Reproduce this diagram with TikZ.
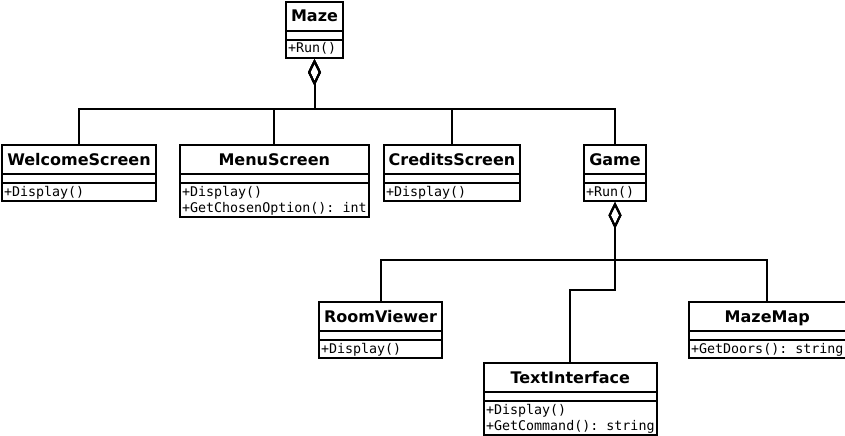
\documentclass[tikz,border=0pt]{standalone}
\usepackage{fontspec}
\setmainfont{DejaVu Sans}
\setmonofont{DejaVu Sans Mono}
\usetikzlibrary{shapes.multipart,arrows.meta}

% class boxes: title, (empty) attributes, methods
\newcommand{\ctitle}[1]{{\rmfamily\bfseries\fontsize{12}{14}\selectfont\rule[-6pt]{0pt}{20.25pt}#1}}
\newcommand{\noattr}{\rule{0pt}{5.25pt}}
\newcommand{\mone}[1]{\rule[-3pt]{0pt}{12pt}#1}
\newcommand{\mtwo}[2]{\rule{0pt}{9pt}#1\\\rule[-3pt]{0pt}{3pt}#2}

\tikzset{
  umlclass/.style={draw, line width=1.5pt, rectangle split, rectangle split parts=3,
    rectangle split part align={center,left,left}, anchor=north west,
    inner xsep=1.5pt, inner ysep=0pt, align=left,
    font=\ttfamily\fontsize{10}{12}\selectfont},
  agg/.style={line width=1.5pt, {Diamond[open,length=20pt,width=9.75pt]}-}
}

\begin{document}
\begin{tikzpicture}[x=0.75pt, y=-0.75pt]
    \useasboundingbox (0,0) rectangle (845,435);

    % top level
    \node[umlclass, minimum width=42.75pt] (maze) at (285,1) {\ctitle{Maze}\nodepart{two}\noattr\nodepart{three}\mone{+Run()}};

    \node[umlclass, minimum width=115.5pt] (welcome) at (1,144) {\ctitle{WelcomeScreen}\nodepart{two}\noattr\nodepart{three}\mone{+Display()}};
    \node[umlclass, minimum width=140.25pt] (menu) at (179,144) {\ctitle{MenuScreen}\nodepart{two}\noattr\nodepart{three}\mtwo{+Display()}{+GetChosenOption(): int}};
    \node[umlclass, minimum width=102pt] (credits) at (383,144) {\ctitle{CreditsScreen}\nodepart{two}\noattr\nodepart{three}\mone{+Display()}};
    \node[umlclass, minimum width=46.5pt] (game) at (583,144) {\ctitle{Game}\nodepart{two}\noattr\nodepart{three}\mone{+Run()}};

    \draw[agg] (maze.south) -- ++(0,50) -| (welcome.north);
    \draw[agg] (maze.south) -- ++(0,50) -| (menu.north);
    \draw[agg] (maze.south) -- ++(0,50) -| (credits.north);
    \draw[agg] (maze.south) -- ++(0,50) -| (game.north);

    % parts of the game
    \node[umlclass, minimum width=92.25pt] (room) at (318,301) {\ctitle{RoomViewer}\nodepart{two}\noattr\nodepart{three}\mone{+Display()}};
    \node[umlclass, minimum width=129pt] (text) at (483,362) {\ctitle{TextInterface}\nodepart{two}\noattr\nodepart{three}\mtwo{+Display()}{+GetCommand(): string}};
    \node[umlclass, minimum width=117pt] (map) at (688,301) {\ctitle{MazeMap}\nodepart{two}\noattr\nodepart{three}\mone{+GetDoors(): string}};

    \draw[agg] (game.south) -- ++(0,58) -| (room.north);
    \draw[agg] (game.south) -- ++(0,88) -| (text.north);
    \draw[agg] (game.south) -- ++(0,58) -| (map.north);
\end{tikzpicture}
\end{document}
